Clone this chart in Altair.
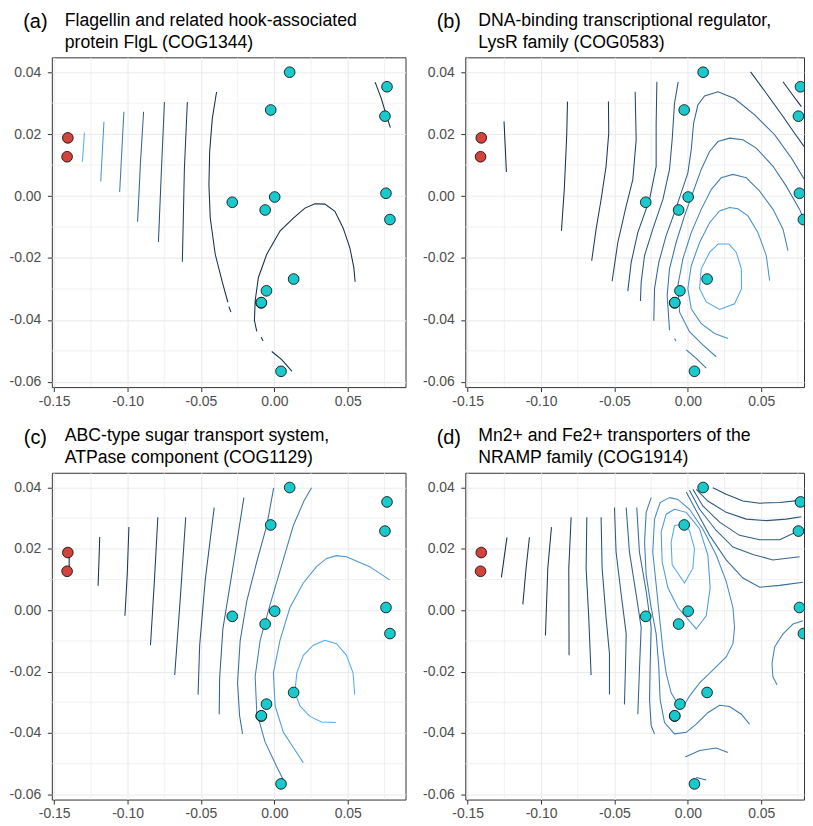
import altair as alt
import pandas as pd

# ---------------- axes ----------------
XDOM = [-0.1516, 0.0893]          # full panel (a), (c)
XDOM_CUT = [-0.1516, 0.0791]      # panels (b), (d) run past the right edge of the page
YDOM = [-0.0617, 0.0448]
X_MAJOR = [-0.15, -0.10, -0.05, 0.00, 0.05]
X_MINOR = [-0.125, -0.075, -0.025, 0.025, 0.075]
Y_MAJOR = [-0.06, -0.04, -0.02, 0.00, 0.02, 0.04]
Y_MINOR = [-0.05, -0.03, -0.01, 0.01, 0.03]

# ---------------- points (same in every panel) ----------------
PT_X = [-0.1407, -0.1412, 0.0104, -0.0025, 0.0767, 0.0753, 0.0760, 0.0787,
        -0.0287, 0.0002, -0.0063, 0.0131, -0.0054, -0.0090, -0.0089, 0.0045]
PT_Y = [0.0188, 0.0127, 0.0400, 0.0278, 0.0353, 0.0258, 0.0009, -0.0076,
        -0.0020, -0.0003, -0.0045, -0.0268, -0.0306, -0.0345, -0.0344, -0.0566]
PT_GROUP = ["red", "red"] + ["teal"] * 14

TAGS = ["(a)", "(b)", "(c)", "(d)"]
TITLES = [
    ["Flagellin and related hook-associated", "protein FlgL (COG1344)"],
    ["DNA-binding transcriptional regulator,", "LysR family (COG0583)"],
    ["ABC-type sugar transport system,", "ATPase component (COG1129)"],
    ["Mn2+ and Fe2+ transporters of the", "NRAMP family (COG1914)"],
]

# ---------------- contour paths: (level, xs, ys) ----------------
A_LINES = [
    (1.00, [-0.1294, -0.1308], [0.0205, 0.0111]),
    (0.80, [-0.1161, -0.1172, -0.1183], [0.0240, 0.0143, 0.0047]),
    (0.62, [-0.1025, -0.1040, -0.1054], [0.0272, 0.0140, 0.0013]),
    (0.45, [-0.0891, -0.0912, -0.0932], [0.0272, 0.0111, -0.0083]),
    (0.30, [-0.0749, -0.0769, -0.0790], [0.0304, 0.0090, -0.0148]),
    (0.15, [-0.0593, -0.0613, -0.0627], [0.0304, 0.0090, -0.0212]),
    (0.02, [-0.0394, -0.0423, -0.0441, -0.0446, -0.0437, -0.0403, -0.0357, -0.0317],
           [0.0336, 0.0250, 0.0143, 0.0036, -0.0071, -0.0188, -0.0274, -0.0343]),
    (0.02, [-0.0310, -0.0296], [-0.0357, -0.0375]),
    (0.02, [-0.0120, -0.0136, -0.0131, -0.0109, -0.0052, 0.0038, 0.0129, 0.0208,
            0.0276, 0.0344, 0.0412, 0.0468, 0.0514, 0.0541, 0.0550],
           [-0.0437, -0.0402, -0.0338, -0.0263, -0.0188, -0.0113, -0.0071, -0.0039,
            -0.0025, -0.0026, -0.0049, -0.0103, -0.0167, -0.0231, -0.0277]),
    (0.02, [-0.0090, -0.0077], [-0.0456, -0.0468]),
    (0.02, [-0.0018, 0.0050, 0.0120], [-0.0502, -0.0528, -0.0566]),
    (0.02, [0.0686, 0.0729, 0.0762, 0.0790], [0.0368, 0.0314, 0.0261, 0.0221]),
]

B_LINES = [
    (0.00, [-0.1252, -0.1244, -0.1236], [0.0241, 0.0160, 0.0078]),
    (0.05, [-0.0820, -0.0825, -0.0841, -0.0861], [0.0305, 0.0198, 0.0027, -0.0112]),
    (0.12, [-0.0541, -0.0539, -0.0557, -0.0591, -0.0625, -0.0655],
           [0.0305, 0.0203, 0.0096, -0.0011, -0.0107, -0.0209]),
    (0.20, [-0.0359, -0.0352, -0.0375, -0.0420, -0.0477, -0.0516],
           [0.0337, 0.0182, 0.0053, -0.0032, -0.0150, -0.0275]),
    (0.28, [-0.0211, -0.0216, -0.0216, -0.0261, -0.0341, -0.0386, -0.0409],
           [0.0369, 0.0235, 0.0096, -0.0011, -0.0118, -0.0214, -0.0307]),
    (0.36, [-0.0066, -0.0091, -0.0107, -0.0125, -0.0170, -0.0239, -0.0295, -0.0318, -0.0323],
           [0.0369, 0.0299, 0.0182, 0.0086, -0.0011, -0.0107, -0.0192, -0.0278, -0.0339]),
    (0.46, [0.0807, 0.0705, 0.0591, 0.0455, 0.0318, 0.0205, 0.0114, 0.0068, 0.0039,
            0.0023, 0.0000, -0.0045, -0.0091, -0.0148, -0.0198, -0.0227, -0.0232],
           [0.0043, 0.0123, 0.0198, 0.0262, 0.0315, 0.0337, 0.0323, 0.0294, 0.0235,
            0.0150, 0.0075, 0.0011, -0.0053, -0.0128, -0.0214, -0.0299, -0.0403]),
    (0.56, [0.0818, 0.0761, 0.0670, 0.0580, 0.0466, 0.0375, 0.0284, 0.0205, 0.0148,
            0.0091, 0.0034, -0.0023, -0.0080, -0.0125, -0.0141, -0.0125],
           [-0.0107, -0.0043, 0.0032, 0.0096, 0.0155, 0.0182, 0.0187, 0.0176, 0.0144,
            0.0086, 0.0011, -0.0064, -0.0150, -0.0235, -0.0321, -0.0433]),
    (0.56, [-0.0091, -0.0080], [-0.0460, -0.0468]),
    (0.56, [-0.0011, 0.0057, 0.0125], [-0.0497, -0.0524, -0.0556]),
    (0.66, [0.0682, 0.0648, 0.0580, 0.0489, 0.0398, 0.0307, 0.0227, 0.0159, 0.0091,
            0.0023, -0.0034, -0.0068, -0.0057, 0.0011, 0.0102, 0.0193],
           [-0.0176, -0.0107, -0.0043, 0.0016, 0.0059, 0.0070, 0.0059, 0.0021, -0.0043,
            -0.0118, -0.0203, -0.0289, -0.0374, -0.0438, -0.0481, -0.0519]),
    (0.78, [0.0557, 0.0534, 0.0477, 0.0409, 0.0341, 0.0284, 0.0216, 0.0148, 0.0080,
            0.0023, 0.0000, 0.0023, 0.0091, 0.0182, 0.0273],
           [-0.0273, -0.0192, -0.0118, -0.0064, -0.0041, -0.0037, -0.0048, -0.0086, -0.0150,
            -0.0225, -0.0299, -0.0364, -0.0412, -0.0444, -0.0460]),
    (0.93, [0.0205, 0.0280, 0.0330, 0.0364, 0.0366, 0.0318, 0.0216, 0.0125, 0.0080,
            0.0091, 0.0148, 0.0205],
           [-0.0155, -0.0155, -0.0182, -0.0235, -0.0299, -0.0348, -0.0366, -0.0342, -0.0299,
            -0.0235, -0.0182, -0.0155]),
    (0.14, [0.0427, 0.0534, 0.0648, 0.0727, 0.0791], [0.0401, 0.0332, 0.0257, 0.0203, 0.0160]),
    (0.06, [0.0648, 0.0705, 0.0773], [0.0369, 0.0332, 0.0289]),
]

C_LINES = [
    (0.00, [-0.1398, -0.1398], [0.0176, 0.0140]),
    (0.04, [-0.1190, -0.1195, -0.1201], [0.0239, 0.0160, 0.0080]),
    (0.10, [-0.0991, -0.1002, -0.1018], [0.0271, 0.0121, -0.0018]),
    (0.17, [-0.0794, -0.0817, -0.0844], [0.0303, 0.0099, -0.0114]),
    (0.24, [-0.0604, -0.0640, -0.0679], [0.0303, 0.0046, -0.0211]),
    (0.32, [-0.0410, -0.0471, -0.0509, -0.0520], [0.0335, 0.0099, -0.0114, -0.0275]),
    (0.42, [-0.0208, -0.0278, -0.0351, -0.0373, -0.0376], [0.0367, 0.0153, -0.0061, -0.0221, -0.0339]),
    (0.52, [-0.0005, -0.0052, -0.0120, -0.0188, -0.0233, -0.0251, -0.0237, -0.0217],
           [0.0399, 0.0276, 0.0158, 0.0030, -0.0098, -0.0237, -0.0344, -0.0403]),
    (0.64, [0.0253, 0.0201, 0.0129, 0.0050, -0.0029, -0.0097, -0.0131, -0.0120, -0.0063,
            0.0016, 0.0061],
           [0.0399, 0.0356, 0.0276, 0.0148, 0.0019, -0.0098, -0.0216, -0.0334, -0.0430,
            -0.0510, -0.0553]),
    (0.82, [0.0785, 0.0649, 0.0491, 0.0423, 0.0355, 0.0287, 0.0197, 0.0106, 0.0038,
            -0.0007, 0.0005, 0.0061, 0.0197],
           [0.0099, 0.0142, 0.0174, 0.0178, 0.0169, 0.0142, 0.0089, 0.0009, -0.0098,
            -0.0205, -0.0312, -0.0398, -0.0497]),
    (0.96, [0.0547, 0.0536, 0.0491, 0.0423, 0.0344, 0.0265, 0.0197, 0.0152, 0.0140,
            0.0174, 0.0242, 0.0321, 0.0418],
           [-0.0275, -0.0205, -0.0147, -0.0109, -0.0098, -0.0114, -0.0147, -0.0205, -0.0269,
            -0.0312, -0.0346, -0.0364, -0.0366]),
]

D_LINES = [
    (0.00, [-0.1232, -0.1270], [0.0238, 0.0107]),
    (0.06, [-0.1079, -0.1102, -0.1124], [0.0238, 0.0137, 0.0019]),
    (0.12, [-0.0929, -0.0954, -0.0970], [0.0271, 0.0137, -0.0082]),
    (0.18, [-0.0795, -0.0811, -0.0809], [0.0303, 0.0137, -0.0147]),
    (0.25, [-0.0688, -0.0693, -0.0675, -0.0659], [0.0303, 0.0137, -0.0024, -0.0211]),
    (0.32, [-0.0591, -0.0584, -0.0557, -0.0534, -0.0534], [0.0303, 0.0137, -0.0024, -0.0142, -0.0275]),
    (0.38, [-0.0500, -0.0489, -0.0454, -0.0420, -0.0425, -0.0432],
           [0.0335, 0.0190, 0.0051, -0.0077, -0.0184, -0.0307]),
    (0.44, [-0.0420, -0.0398, -0.0352, -0.0318, -0.0329, -0.0341],
           [0.0335, 0.0190, 0.0051, -0.0056, -0.0184, -0.0339]),
    (0.50, [-0.0348, -0.0330, -0.0284, -0.0250, -0.0257, -0.0261, -0.0250, -0.0227],
           [0.0335, 0.0190, 0.0062, -0.0056, -0.0184, -0.0291, -0.0376, -0.0403]),
    (0.62, [-0.0250, -0.0284, -0.0295, -0.0284, -0.0250, -0.0216, -0.0198, -0.0189,
            -0.0159, -0.0091, -0.0011, 0.0057, 0.0136, 0.0216, 0.0284, 0.0364, 0.0420],
           [0.0367, 0.0319, 0.0222, 0.0115, 0.0009, -0.0077, -0.0184, -0.0291,
            -0.0366, -0.0403, -0.0398, -0.0371, -0.0334, -0.0310, -0.0314, -0.0339, -0.0371]),
    (0.72, [-0.0125, -0.0189, -0.0227, -0.0239, -0.0216, -0.0193, -0.0170, -0.0148, -0.0114,
            -0.0080, -0.0023, 0.0011, 0.0080, 0.0170, 0.0261, 0.0307, 0.0318, 0.0307,
            0.0261, 0.0193, 0.0102, 0.0011, -0.0068, -0.0125],
           [0.0367, 0.0351, 0.0297, 0.0190, 0.0083, -0.0024, -0.0130, -0.0205, -0.0269,
            -0.0296, -0.0307, -0.0280, -0.0237, -0.0195, -0.0152, -0.0109, -0.0056, 0.0009,
            0.0094, 0.0180, 0.0265, 0.0329, 0.0361, 0.0367]),
    (0.83, [-0.0091, -0.0148, -0.0182, -0.0175, -0.0136, -0.0068, 0.0057, 0.0125, 0.0152,
            0.0136, 0.0080, -0.0011, -0.0091],
           [0.0329, 0.0313, 0.0255, 0.0158, 0.0073, 0.0009, -0.0061, -0.0018, 0.0073,
            0.0180, 0.0265, 0.0319, 0.0329]),
    (0.95, [-0.0091, -0.0114, -0.0107, -0.0023, 0.0034, 0.0045, 0.0011, -0.0034, -0.0091],
           [0.0276, 0.0222, 0.0148, 0.0089, 0.0137, 0.0201, 0.0260, 0.0281, 0.0276]),
    (0.30, [0.0170, 0.0261, 0.0375, 0.0489, 0.0625, 0.0761],
           [0.0399, 0.0378, 0.0356, 0.0349, 0.0351, 0.0358]),
    (0.35, [0.0057, 0.0136, 0.0261, 0.0398, 0.0534, 0.0670, 0.0773],
           [0.0394, 0.0356, 0.0319, 0.0297, 0.0292, 0.0297, 0.0305]),
    (0.40, [0.0034, 0.0102, 0.0216, 0.0352, 0.0489, 0.0625, 0.0738],
           [0.0394, 0.0340, 0.0287, 0.0244, 0.0230, 0.0230, 0.0255]),
    (0.46, [0.0011, 0.0080, 0.0193, 0.0307, 0.0443, 0.0579, 0.0761],
           [0.0391, 0.0329, 0.0260, 0.0206, 0.0182, 0.0164, 0.0174]),
    (0.52, [-0.0011, 0.0057, 0.0148, 0.0261, 0.0375, 0.0489, 0.0625, 0.0784],
           [0.0385, 0.0324, 0.0244, 0.0164, 0.0105, 0.0075, 0.0081, 0.0091]),
    (0.62, [-0.0018, 0.0080, 0.0193, 0.0273], [-0.0478, -0.0457, -0.0449, -0.0464]),
    (0.52, [0.0057, 0.0125], [-0.0545, -0.0553]),
    (0.70, [0.0784, 0.0716, 0.0648, 0.0591, 0.0573, 0.0579, 0.0607],
           [-0.0034, -0.0045, -0.0077, -0.0120, -0.0173, -0.0216, -0.0243]),
]

PANEL_LINES = [A_LINES, B_LINES, C_LINES, D_LINES]

FONT = "Liberation Sans"
TEAL = "#19C9CC"
RED = "#D2433C"
GRID = "#EBEBEB"


def lines_frame(lines):
    rows = []
    for k, (lev, xs, ys) in enumerate(lines):
        for j, (xx, yy) in enumerate(zip(xs, ys)):
            rows.append({"id": k, "ord": j, "level": lev, "x": xx, "y": yy})
    return pd.DataFrame(rows)


def text_layer(txt, x, y, size, align):
    return alt.Chart(pd.DataFrame({"t": [txt]})).mark_text(
        align=align, baseline="middle", fontSize=size, font=FONT, color="black"
    ).encode(text="t:N", x=alt.value(x), y=alt.value(y))


def panel(i, width, height, xdom):
    pts = pd.DataFrame({"x": PT_X, "y": PT_Y, "group": PT_GROUP})
    ldf = lines_frame(PANEL_LINES[i])
    xs = alt.Scale(domain=xdom, nice=False, zero=False)
    ys = alt.Scale(domain=YDOM, nice=False, zero=False)

    minor_x = alt.Chart(pd.DataFrame({"v": X_MINOR})).mark_rule(
        color=GRID, strokeWidth=0.7, clip=True).encode(x=alt.X("v:Q", scale=xs, axis=None))
    minor_y = alt.Chart(pd.DataFrame({"v": Y_MINOR})).mark_rule(
        color=GRID, strokeWidth=0.7).encode(y=alt.Y("v:Q", scale=ys, axis=None))

    contour = alt.Chart(ldf).mark_line(strokeWidth=1.05, clip=True).encode(
        x=alt.X("x:Q", scale=xs, axis=None),
        y=alt.Y("y:Q", scale=ys, axis=None),
        detail="id:N",
        order="ord:Q",
        color=alt.Color("level:Q", scale=alt.Scale(domain=[0, 1], range=["#132B43", "#56B1F7"]),
                        legend=None),
    )

    label_expr = "replace(format(datum.value, '.2f'), '\u2212', '-')"
    points = alt.Chart(pts).mark_circle(size=115, opacity=1, stroke="black", strokeWidth=0.8,
                                        clip=True).encode(
        x=alt.X("x:Q", scale=xs,
                axis=alt.Axis(orient="bottom", values=X_MAJOR, labelExpr=label_expr, title=None,
                              labelFont=FONT, labelFontSize=14, labelColor="#4D4D4D",
                              tickColor="#333333", tickSize=4.5, labelPadding=2.5, domain=False,
                              grid=True, gridColor=GRID, gridWidth=1.1)),
        y=alt.Y("y:Q", scale=ys,
                axis=alt.Axis(orient="left", values=Y_MAJOR, labelExpr=label_expr, title=None,
                              labelFont=FONT, labelFontSize=14, labelColor="#4D4D4D",
                              tickColor="#333333", tickSize=4.5, labelPadding=6.5, domain=False,
                              grid=True, gridColor=GRID, gridWidth=1.1)),
        color=alt.Color("group:N", scale=alt.Scale(domain=["red", "teal"], range=[RED, TEAL]),
                        legend=None),
    )

    tag = text_layer(TAGS[i], -16.5, -35, 20, "center")
    t1 = text_layer(TITLES[i][0], 13, -36.5, 17.7, "left")
    t2 = text_layer(TITLES[i][1], 13, -14.5, 17.7, "left")

    return alt.layer(minor_x, minor_y, contour, points, tag, t1, t2).resolve_axis(
        x="independent", y="independent"
    ).resolve_scale(color="independent").properties(width=width, height=height)


top = alt.hconcat(panel(0, 355, 331, XDOM), panel(1, 340, 331, XDOM_CUT), spacing=15)
bottom = alt.hconcat(panel(2, 355, 328, XDOM), panel(3, 340, 328, XDOM_CUT), spacing=15)
chart = alt.vconcat(top, bottom, spacing=18).properties(
    padding={"left": 0, "right": 0, "top": 2, "bottom": -3},
    background="white",
).configure_view(stroke="#333333", strokeWidth=1)

chart.save("out.html", embed_options={"renderer": "svg", "actions": False})
